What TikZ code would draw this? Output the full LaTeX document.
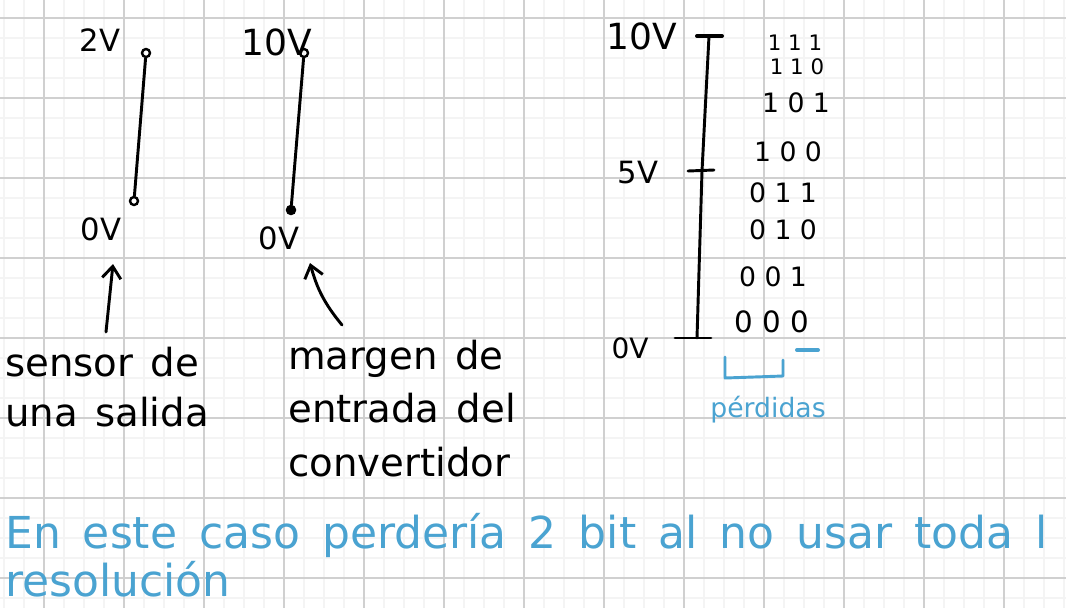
\documentclass[tikz,border=0pt]{standalone}
\usepackage{fontspec}
\setmainfont{DejaVu Sans}
\usetikzlibrary{arrows.meta}
\definecolor{inkblue}{RGB}{74,163,209}
\definecolor{gridminor}{RGB}{244,244,244}
\definecolor{gridmajor}{RGB}{208,208,208}
\newcommand\widegaps[1]{\spaceskip=#1em\relax}

\begin{document}
\begin{tikzpicture}[
  x=0.75pt,y=-0.75pt,
  >={Straight Barb[length=9pt,width=14pt]},
  ink/.style={line width=2.2pt,line cap=round,line join=round},
  pin/.style={draw,circle,line width=1.8pt,inner sep=0pt,minimum size=6pt},
  volt/.style={font=\fontsize{23}{23}\selectfont,inner sep=0pt},
  bits/.style={font=\fontsize{20}{20}\selectfont,inner sep=0pt},
  smallbits/.style={font=\fontsize{16}{16}\selectfont,inner sep=0pt},
  note/.style={align=left,anchor=north west,inner sep=0pt},
  minorline/.style={gridminor,line width=1.5pt},
  majorline/.style={gridmajor,line width=1pt}
]
  \useasboundingbox[fill=white] (0,0) rectangle (1066,608);
  % squared paper
  \foreach \gx in {4,24,...,1064} \draw[minorline] (\gx,0) -- (\gx,608);
  \foreach \gy in {18,38,...,598} \draw[minorline] (0,\gy) -- (1066,\gy);
  \foreach \gx in {44,124,...,1004} \draw[majorline] (\gx,0) -- (\gx,608);
  \foreach \gy in {18,98,...,578} \draw[majorline] (0,\gy) -- (1066,\gy);

  % sensor range
  \node[volt] (sensormax) at (100,40) {2V};
  \node[volt] (sensormin) at (101,229) {0V};
  \node[pin] (sensortop) at (146,53) {};
  \node[pin] (sensorbot) at (134,201) {};
  \draw[ink] (sensortop) -- (sensorbot);

  % converter range
  \node[volt,font=\fontsize{27}{27}\selectfont] (convmax) at (277,42) {10V};
  \node[volt] (convmin) at (279,238) {0V};
  \node[pin] (convtop) at (304,53) {};
  \node[pin,fill] (convbot) at (291,210) {};
  \draw[ink] (convtop) -- (convbot);

  % captions
  \node[note,font=\fontsize{29}{37.5}\selectfont] (sensortext) at (5,347)
    {\widegaps{0.45}sensor de\\\widegaps{0.45}una salida};
  \node[note,font=\fontsize{29}{40}\selectfont] (convtext) at (288,340)
    {\widegaps{0.45}margen de\\\widegaps{0.45}entrada del\\convertidor};
  \coordinate (sensorfoot) at (106,332);
  \coordinate (sensortip) at (113,264);
  \coordinate (convfoot) at (342,325);
  \coordinate (convtip) at (310,263);
  \draw[ink,->] (sensorfoot) -- (sensortip);
  \draw[ink,->] (convfoot) to[bend left=12] (convtip);

  % voltage scale
  \coordinate (scaletop) at (709,36);
  \coordinate (scalemid) at (702,171);
  \coordinate (scalebot) at (697,338);
  \draw[ink] (scaletop) -- (scalemid) -- (scalebot);
  \draw[ink,line width=3pt] (697,36) -- (722,36);
  \draw[ink] (688,171) -- (714,170);
  \draw[ink] (675,338) -- (711,338);
  \node[volt,font=\fontsize{27}{27}\selectfont] (topvolt) at (642,36) {10V};
  \node[volt] (midvolt) at (638,173) {5V};
  \node[volt,font=\fontsize{21}{21}\selectfont] (lowvolt) at (630,348) {0V};

  % output codes
  \node[smallbits] (code111) at (795,43) {1 1 1};
  \node[smallbits] (code110) at (797,67) {1 1 0};
  \node[bits] (code101) at (796,103) {1 0 1};
  \node[bits] (code100) at (788,152) {1 0 0};
  \node[bits] (code011) at (783,193) {0 1 1};
  \node[bits] (code010) at (783,230) {0 1 0};
  \node[bits] (code001) at (773,277) {0 0 1};
  \node[bits,font=\fontsize{22}{22}\selectfont] (code000) at (772,322) {0 0 0};

  % lost bits
  \draw[ink,inkblue,line width=3pt] (797,350) -- (818,350);
  \draw[ink,inkblue] (725,357) -- (725,378) -- (783,376) -- (783,360);
  \node[inkblue,font=\fontsize{20}{20}\selectfont,inner sep=0pt] (lost) at (768,410)
    {pérdidas};

  \node[note,inkblue,font=\fontsize{33}{36}\selectfont] (remark) at (5,513)
    {\widegaps{0.5}En este caso perdería 2 bit al no usar toda l\\resolución};
\end{tikzpicture}
\end{document}
